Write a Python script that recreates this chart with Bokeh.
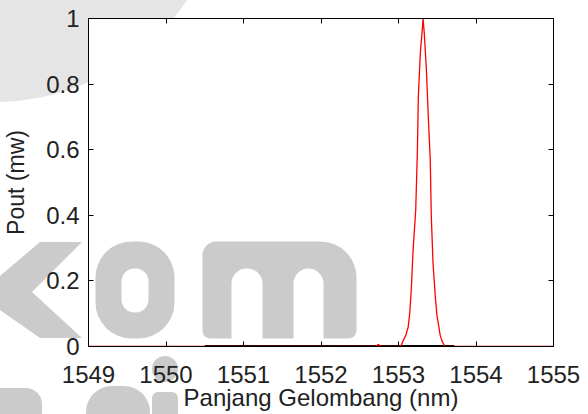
from urllib.parse import quote
from bokeh.plotting import figure
from bokeh.models import LinearAxis, FixedTicker, CustomJSTickFormatter, Range1d, BoxAnnotation
from bokeh.embed import file_html
from bokeh.resources import INLINE

# Output spectrum (red)
wavelength_nm = [1549.00, 1550.50, 1552.70, 1552.74, 1552.78, 1553.03,
                 1553.060, 1553.094, 1553.124, 1553.145, 1553.167, 1553.188,
                 1553.222, 1553.244, 1553.256, 1553.282, 1553.308, 1553.317,
                 1553.333, 1553.359, 1553.385, 1553.410, 1553.423, 1553.445,
                 1553.474, 1553.496, 1553.522, 1553.538, 1553.564, 1553.600,
                 1555.00]
pout_mw = [0.0, 0.0, 0.0, 0.006, 0.0, 0.0,
           0.018, 0.034, 0.058, 0.101, 0.183, 0.293,
           0.415, 0.598, 0.762, 0.896, 0.970, 1.000,
           0.954, 0.848, 0.698, 0.567, 0.399, 0.256,
           0.155, 0.095, 0.058, 0.034, 0.015, 0.0,
           0.0]

# Second (black) trace lying on zero
base_wavelength_nm = [1550.50, 1553.72]
base_pout_mw = [0.0, 0.0]

x_ticks = [1549, 1550, 1551, 1552, 1553, 1554, 1555]
y_ticks = [0, 0.2, 0.4, 0.6, 0.8, 1]

FONT = "Liberation Sans"
WM_DARK = "#cbcbcb"
WM_LIGHT = "#e5e5e5"

# ---- watermark behind the canvas (decoration only) ----
svg_bg = (
    "<svg xmlns='http://www.w3.org/2000/svg' width='588' height='414'>"
    f"<circle cx='-5' cy='-130' r='232' fill='{WM_LIGHT}'/>"
    f"<polygon points='0,276 40,242 82,242 32,292 82,338 40,338 0,310' fill='{WM_DARK}'/>"
    f"<rect x='-20' y='388' width='62' height='60' rx='16' fill='{WM_DARK}'/>"
    f"<rect x='86' y='386' width='64' height='60' rx='26' fill='{WM_DARK}'/>"
    f"<rect x='152' y='392' width='26' height='40' rx='6' fill='{WM_DARK}'/>"
    f"<circle cx='165' cy='369' r='13' fill='{WM_DARK}'/>"
    "</svg>"
)

p = figure(width=588, height=414, output_backend="svg", toolbar_location=None,
           x_range=Range1d(1549, 1555), y_range=Range1d(0, 1),
           min_border_left=85, min_border_right=35, min_border_top=18,
           min_border_bottom=68, background_fill_color="white",
           border_fill_color=None)
p.styles = {"background-color": "white",
            "background-image": 'url("data:image/svg+xml,' + quote(svg_bg) + '")',
            "background-repeat": "no-repeat",
            "background-size": "588px 414px"}
p.xgrid.visible = False
p.ygrid.visible = False
p.outline_line_color = "black"
p.outline_line_width = 1

def wm_box(l, r, t, b, radius, color):
    p.add_layout(BoxAnnotation(left=l, right=r, top=t, bottom=b,
                               left_units="screen", right_units="screen",
                               top_units="screen", bottom_units="screen",
                               border_radius=radius, fill_color=color, fill_alpha=1,
                               line_color=None, level="underlay"))

# letters "o" and "m" of the watermark inside the frame (frame-relative px, y up)
wm_box(7, 86, 105, 8, 36, WM_DARK)
wm_box(33, 60, 78, 34, 13, "white")
wm_box(114, 268, 105, 8, (14, 36, 8, 8), WM_DARK)
wm_box(143, 174, 78, -10, (15, 15, 0, 0), "white")
wm_box(205, 235, 78, -10, (15, 15, 0, 0), "white")

p.line(base_wavelength_nm, base_pout_mw, line_color="black", line_width=3)
p.line(wavelength_nm, pout_mw, line_color="#ff0000", line_width=1.3)

def style(ax, labels=True):
    ax.major_tick_in = 5
    ax.major_tick_out = 0
    ax.minor_tick_line_color = None
    ax.axis_line_color = "black"
    ax.major_tick_line_color = "black"
    ax.major_label_text_font = FONT
    ax.major_label_text_font_size = "24px"
    ax.major_label_text_color = "#222222"
    ax.axis_label_text_font = FONT
    ax.axis_label_text_font_size = "24px"
    ax.axis_label_text_font_style = "normal"
    ax.axis_label_text_color = "#222222"
    if not labels:
        ax.formatter = CustomJSTickFormatter(code="return ''")

xa = p.xaxis[0]
xa.ticker = FixedTicker(ticks=x_ticks)
xa.formatter = CustomJSTickFormatter(code="return tick.toFixed(0)")
xa.axis_label = "Panjang Gelombang (nm)"
style(xa)
xa.major_label_standoff = 19
xa.axis_label_standoff = -2

ya = p.yaxis[0]
ya.ticker = FixedTicker(ticks=y_ticks)
ya.formatter = CustomJSTickFormatter(code="return String(Math.round(tick*10)/10)")
ya.axis_label = "Pout (mw)"
style(ya)
ya.axis_label_text_font_size = "23px"
ya.major_label_standoff = 9
ya.axis_label_standoff = 14

top = LinearAxis(ticker=FixedTicker(ticks=x_ticks))
style(top, labels=False)
p.add_layout(top, "above")
right = LinearAxis(ticker=FixedTicker(ticks=y_ticks))
style(right, labels=False)
p.add_layout(right, "right")

open("out.html", "w").write(file_html(p, INLINE))
